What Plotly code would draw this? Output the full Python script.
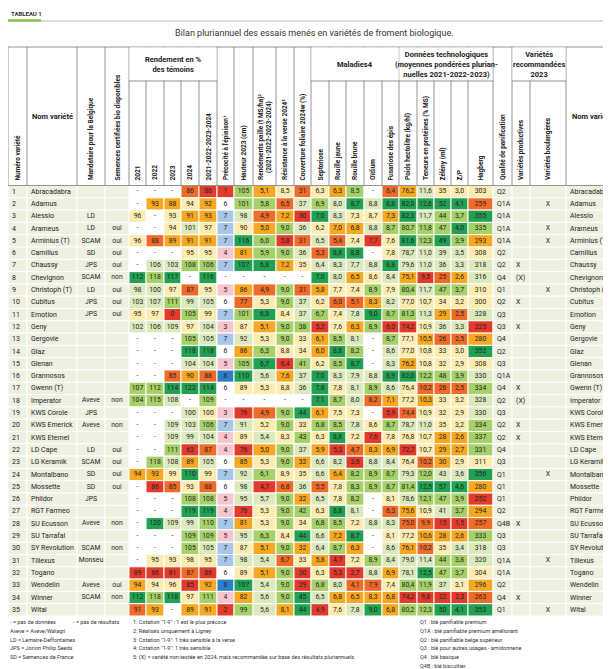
import plotly.graph_objects as go

names = ["Abracadabra","Adamus","Alessio","Arameus","Arminius (T)","Camillus","Chaussy","Chevignon","Christoph (T)","Cubitus","Emotion","Geny","Gergovie","Glaz","Glenan","Grannosos","Gwenn (T)","Imperator","KWS Corole","KWS Emerick","KWS Eternel","LD Cape","LG Keramik","Montalbano","Mossette","Phildor","RGT Farmeo","SU Ecusson","SU Tarrafal","SY Revolution","Tillexus","Togano","Wendelin","Winner","Wital"]
mandataire = ["","","LD","LD","SCAM","SD","JPS","SCAM","LD","JPS","JPS","","","","","","","Aveve","JPS","Aveve","","LD","SCAM","SD","SD","JPS","","Aveve","","SCAM","Monseu","","Aveve","SCAM",""]
semences = ["","","","oui","oui","oui","oui","non","oui","oui","oui","","","","","","","non","","non","","oui","oui","oui","oui","","","non","","non","","","oui","non",""]
N = None
y2021 = [N,N,96,N,96,N,N,112,98,103,95,102,N,N,N,N,107,104,N,N,N,N,N,94,N,N,N,N,N,N,N,89,94,112,91]
y2022 = [N,93,N,N,88,N,106,118,100,107,97,106,N,N,N,N,112,115,N,N,N,N,118,93,86,N,N,120,N,N,95,86,94,118,93]
y2023 = [N,88,93,94,89,N,103,117,97,111,0,109,N,N,N,85,114,108,N,109,109,111,108,99,85,N,N,109,N,N,93,81,96,118,N]
y2024 = [86,94,91,101,91,95,108,N,87,99,105,97,105,118,104,90,122,N,100,103,99,63,89,110,93,108,119,99,109,105,98,87,85,97,89]
pluri = [86,92,93,97,91,95,106,116,95,105,99,104,105,118,104,88,114,109,100,106,104,87,105,99,88,108,119,110,109,105,95,86,92,111,91]
preco = [1,6,7,7,7,4,7,N,5,6,7,3,7,6,5,8,6,N,3,7,4,4,6,7,6,5,4,7,5,7,7,6,8,4,2]
hauteur = [105,101,98,90,116,81,107,N,86,77,101,87,92,86,105,110,89,N,76,91,89,76,85,92,98,95,76,81,95,87,98,89,107,82,99]
paille = [5.1,5.8,4.9,5.0,6.0,5.9,6.8,N,4.9,5.3,6.8,5.1,5.3,6.3,6.7,5.6,5.3,N,4.9,5.2,5.4,5.0,5.3,6.1,4.7,5.7,5.3,5.3,6.3,5.1,5.4,5.1,5.4,5.6,5.6]
verse = [8.5,6.5,7.2,9.0,5.8,9.0,7.2,N,9.0,9.0,8.4,9.0,9.0,8.8,6.4,7.6,8.8,N,9.0,9.0,8.3,9.0,9.0,8.9,6.8,9.0,9.0,9.0,8.4,9.0,6.7,9.0,9.0,9.0,8.1]
couverture = [31,37,30,36,31,36,35,N,31,37,37,38,33,34,41,37,36,N,44,33,43,37,32,35,36,32,42,34,44,32,33,30,29,45,44]
septoriose = [6.3,6.9,7.0,6.2,6.5,5.3,6.4,7.0,5.8,6.2,6.7,5.2,6.1,6.0,6.2,7.0,7.8,7.1,6.1,6.8,6.3,5.9,6.6,6.6,5.5,6.5,6.3,6.8,6.6,6.4,5.8,6.3,6.8,6.5,4.9]
rouille_jaune = [6.3,8.0,8.3,7.0,5.4,8.8,8.3,8.0,7.7,6.0,7.4,7.6,8.5,8.8,8.5,8.3,7.8,8.7,7.5,8.5,8.8,5.3,8.2,6.4,7.8,7.8,8.8,8.5,7.2,8.7,4.7,5.3,8.0,6.8,7.6]
rouille_brune = [8.5,8.7,7.3,6.8,7.4,8.8,7.7,6.5,7.4,5.1,7.8,6.3,8.1,8.2,8.7,7.9,8.1,8.0,7.3,7.8,7.2,4.7,3.6,8.2,8.3,8.2,8.1,7.2,8.7,6.3,7.2,2.7,4.1,6.5,7.8]
oidium = [N,8.8,8.7,8.8,7.7,N,8.8,8.6,8.9,8.3,9.0,8.9,N,N,N,8.8,8.9,8.2,N,8.6,7.6,8.3,8.8,8.9,8.9,N,N,8.8,N,N,8.9,8.8,7.9,8.3,9.0]
fusariose = [6.4,8.8,7.3,8.7,7.6,7.8,8.8,8.4,7.9,8.2,8.7,6.0,8.7,8.6,8.3,8.9,8.6,7.1,5.9,8.7,7.8,6.9,8.4,8.7,8.7,8.1,6.3,8.3,8.1,8.6,8.4,6.9,7.4,6.8,6.8]
poids = [76.2,82.0,82.3,80.7,81.6,78.7,79.6,75.1,80.4,77.0,81.3,74.2,77.1,77.0,76.2,82.0,76.4,77.2,74.4,78.7,76.8,72.7,76.4,79.3,81.4,78.6,75.6,75.0,77.2,76.1,79.0,78.1,80.4,74.2,80.2]
proteines = [11.6,12.6,11.7,11.8,12.3,11.0,11.0,9.5,11.7,10.7,11.3,10.9,10.5,10.8,10.8,12.2,10.2,10.3,10.9,11.0,10.7,10.7,10.2,12.0,12.5,12.1,10.9,9.9,10.6,10.2,11.4,12.5,11.9,9.8,12.3]
zeleny = [35,52,44,47,49,39,36,25,47,34,29,36,26,33,32,48,26,33,32,35,28,29,30,43,57,47,41,15,28,35,44,47,37,22,50]
zp = [3.0,4.1,3.7,4.0,3.9,3.5,3.3,2.6,3.7,3.2,2.5,3.3,2.5,3.0,2.9,3.9,2.5,3.2,2.9,3.2,2.6,2.7,2.9,3.6,4.6,3.9,3.7,1.5,2.6,3.4,3.8,3.7,3.1,2.3,4.1]
hagberg = [303,259,355,335,293,308,318,316,310,300,328,225,280,352,308,330,334,328,330,334,337,331,311,356,280,252,294,257,333,318,320,304,296,263,353]
qualite = ["Q2","Q1A","Q1A","Q1A","Q1A","Q2","Q2","Q4","Q1","Q2","Q3","Q3","Q4","Q2","Q3","Q1A","Q4","Q2","Q3","Q2","Q2","Q4","Q3","Q1","Q1","Q1","Q2","Q4B","Q3","Q3","Q1A","Q1A","Q2","Q4","Q1"]
productives = ["","","","","","","X","(X)","","X","","X","","","","","X","(X)","","X","X","","","","","","","X","","","","","","X",""]
boulangeres = ["","X","","X","X","","","","X","","","","","","","","","","","","","","","X","","","","","","","X","","","","X"]

# ---- layout geometry ----
edges = [0,19,69,97,121,138,156,173,191,209,226,245,268,286,303,321,338,356,374,391,409,426,443,460,485,504,522,558,611]
ROW0, ROWH = 177.5, 12.3
HTOP, HMID = 39, 73
BG = "#eef1e0"
PAL = ["#e23b2c","#ef6b2a","#f7a823","#fcecb0","#dce9bd","#a6d068","#22a153"]
FONT = "Roboto, Liberation Sans, Arial"

def fmt(v, dec):
    if v is None:
        return "-"
    return (f"{v:.{dec}f}").replace(".", ",")

def qcolors(vals, higher=True):
    nums = sorted(v for v in vals if v is not None)
    out = []
    for v in vals:
        if v is None:
            out.append("white"); continue
        lo = sum(1 for u in nums if u < v); eq = sum(1 for u in nums if u == v)
        p = (lo + (eq - 1) / 2) / max(len(nums) - 1, 1)
        if not higher: p = 1 - p
        cuts = [0.05, 0.13, 0.27, 0.5, 0.72, 0.9]
        k = sum(1 for c in cuts if p >= c)
        out.append(PAL[k])
    return out

def precolors(vals):
    m = {1:"#e23b2c",2:"#e23b2c",3:"#f6c5cf",4:"#f6c5cf",5:"#f6c5cf",6:"white",7:"#a8c6e8",8:"#2b7fc9"}
    return [("white" if v is None else m[v]) for v in vals]

textcols = [
    ([str(i+1) for i in range(35)], [BG]*35, "left"),
    (names, [BG]*35, "left"),
    (mandataire, [BG]*35, "center"),
    (semences, [BG]*35, "center"),
]
numcols = [(y2021,0,True),(y2022,0,True),(y2023,0,True),(y2024,0,True),(pluri,0,True)]
cols = list(textcols)
for v, d, h in numcols:
    cols.append(([fmt(x,d) for x in v], qcolors(v,h), "center"))
cols.append(([fmt(x,0) for x in preco], precolors(preco), "center"))
for v, d, h in [(hauteur,0,True),(paille,1,True),(verse,1,True),(couverture,0,True),
                (septoriose,1,True),(rouille_jaune,1,True),(rouille_brune,1,True),(oidium,1,True),(fusariose,1,True),
                (poids,1,True),(proteines,1,True),(zeleny,0,True),(zp,1,True),(hagberg,0,True)]:
    cols.append(([fmt(x,d) for x in v], qcolors(v,h), "center"))
cols.append((qualite, [BG]*35, "left"))
cols.append((productives, [BG]*35, "left"))
cols.append((boulangeres, [BG]*35, "center"))
cols.append((names, [BG]*35, "left"))

shapes = []
tx, ty, tt = [], [], []
anns = []
for c, (texts, fills, align) in enumerate(cols):
    x0, x1 = edges[c], edges[c+1]
    for r in range(35):
        y0 = ROW0 + r*ROWH
        shapes.append(dict(type="rect", x0=x0, x1=x1, y0=y0, y1=y0+ROWH, fillcolor=fills[r],
                           line=dict(color="white", width=1), layer="below"))
        if texts[r]:
            if align == "left":
                anns.append(dict(x=x0+2, y=y0+ROWH/2, text=texts[r], showarrow=False, xanchor="left",
                                 yanchor="middle", font=dict(size=7, color="#222", family=FONT)))
            else:
                tx.append((x0+x1)/2); ty.append(y0+ROWH/2); tt.append(texts[r])

LC = "#7a7a7a"
def line(x0,y0,x1,y1,w=0.8,col=LC):
    shapes.append(dict(type="line", x0=x0,y0=y0,x1=x1,y1=y1, line=dict(color=col,width=w)))
line(0,HTOP,611,HTOP)
line(0,ROW0,611,ROW0)
for e in edges:
    line(e,HTOP,e,ROW0)
groups = [(4,9,"Rendement en %<br>des témoins"),(14,19,"Maladies4"),
          (19,24,"Données technologiques<br>(moyennes pondérées plurian-<br>nuelles 2021-2022-2023)"),
          (25,27,"Variétés<br>recommandées<br>2023")]
vlabels = ["Numéro variété", None, "Mandataire pour la Belgique", "Semences certifiées bio disponibles",
           "2021","2022","2023","2024","2021-2022-2023-2024","Précocité à l'épiaison¹","Hauteur 2023 (cm)",
           "Rendements paille (t MS/ha)²<br>(2021-2022-2023-2024)","Résistance à la verse 2024³","Couverture foliaire 2024w (%)",
           "Septoriose","Rouille jaune","Rouille brune","Oïdium","Fusariose des épis","Poids hectolitre (kg/hl)",
           "Teneurs en protéines (% MS)","Zélény (ml)","Z/P","Hagberg","Qualité de panification",
           "Variétés productives","Variétés boulangères",None]
for a, b, t in groups:
    shapes.append(dict(type="rect", x0=edges[a]+0.5, x1=edges[b]-0.5, y0=HTOP+0.5, y1=HMID-0.5,
                       fillcolor="white", line=dict(width=0)))
    line(edges[a],HMID,edges[b],HMID)
    anns.append(dict(x=(edges[a]+edges[b])/2, y=(HTOP+HMID)/2, text="<b>"+t+"</b>", showarrow=False,
                     font=dict(size=7.5, color="#222", family=FONT), xanchor="center", yanchor="middle"))
for c, lab in enumerate(vlabels):
    if lab is None: continue
    anns.append(dict(x=(edges[c]+edges[c+1])/2, y=ROW0-3, text="<b>"+lab+"</b>", textangle=-90, showarrow=False,
                     xanchor="center", yanchor="bottom", font=dict(size=6.5, color="#222", family=FONT)))
anns.append(dict(x=edges[1]+3, y=108, text="<b>Nom variété</b>", showarrow=False, xanchor="left",
                 font=dict(size=7.5, color="#222", family=FONT)))
anns.append(dict(x=(edges[27]+edges[28])/2, y=108, text="<b>Nom variété</b>", showarrow=False, xanchor="center",
                 font=dict(size=7.5, color="#222", family=FONT)))

anns.append(dict(x=1, y=5, text="<b>TABLEAU 1</b>", showarrow=False, xanchor="left", yanchor="middle",
                 font=dict(size=6, color="#333", family=FONT)))
line(0,13,611,13,0.8,"#aaaaaa")
line(0,12.5,33,12.5,2.5,"#8cc43f")
anns.append(dict(x=306, y=25, text="Bilan pluriannuel des essais menés en variétés de froment biologique.",
                 showarrow=False, xanchor="center", yanchor="middle", font=dict(size=9, color="#333", family=FONT)))

notes = [
    (0, ["- = pas de données","Aveve = Aveve/Walagri","LD = Lemaire-Deffontaines","JPS = Jorion Philip Seeds","SD = Semences de France"]),
    (63, ["- = pas de résultats"]),
    (123, ["1: Cotation \"1-9\" : 1 est le plus précoce","2: Réalisés uniquement à Ligney","3: Cotation \"1-9\": 1 très sensible à la verse",
           "4: Cotation \"1-9\": 1 très sensible","5: (X) = variété non-testée en 2024, mais recommandée sur base des résultats pluriannuels"]),
    (410, ["Q1 : blé panifiable premium","Q1A : blé panifiable premium améliorant","Q2 : blé panifiable belge supérieur",
           "Q3 : blé pour autres usages - amidonnerie","Q4 : blé basique","Q4B : blé biscuitier"]),
]
for x, lines in notes:
    for i, t in enumerate(lines):
        anns.append(dict(x=x, y=614+i*8.8, text=t, showarrow=False, xanchor="left", yanchor="middle",
                         font=dict(size=5.5, color="#333", family=FONT)))

fig = go.Figure(go.Scatter(x=tx, y=ty, text=tt, mode="text", textposition="middle center",
                           textfont=dict(size=6.8, color="#222", family=FONT), hoverinfo="skip"))
fig.update_layout(width=611, height=669, margin=dict(l=0,r=0,t=0,b=0), plot_bgcolor="white",
                  paper_bgcolor="white", showlegend=False, shapes=shapes, annotations=anns,
                  xaxis=dict(range=[0,611], visible=False, fixedrange=True),
                  yaxis=dict(range=[669,0], visible=False, fixedrange=True))
fig.write_html("out.html")
